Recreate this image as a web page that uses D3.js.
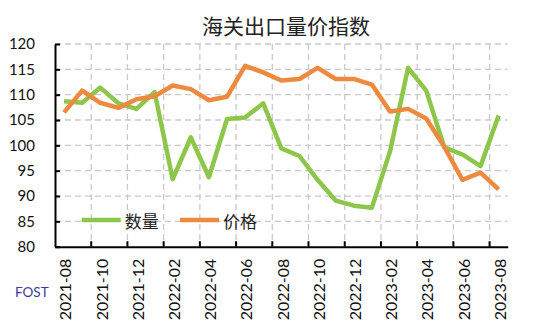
<!DOCTYPE html>
<html>
<head>
<meta charset="utf-8">
<script src="https://cdn.jsdelivr.net/npm/d3@7"></script>
<style>
  html, body { margin: 0; padding: 0; background: #fff; }
  svg { display: block; }
</style>
</head>
<body>
<svg id="chart" width="550" height="330"></svg>
<script>
// Monthly customs export index, 2021-08 .. 2023-08
const months = [
  "2021-08","2021-09","2021-10","2021-11","2021-12",
  "2022-01","2022-02","2022-03","2022-04","2022-05","2022-06","2022-07",
  "2022-08","2022-09","2022-10","2022-11","2022-12",
  "2023-01","2023-02","2023-03","2023-04","2023-05","2023-06","2023-07","2023-08"
];
const quantity = [108.7, 108.4, 111.4, 108.3, 107.2, 110.5, 93.3, 101.6, 93.7, 105.2, 105.5, 108.3,
                  99.4, 97.9, 93.2, 89.1, 88.1, 87.7, 98.8, 115.3, 110.8, 99.6, 98.2, 95.9, 105.9];
const price = [106.5, 110.8, 108.4, 107.4, 109.1, 109.7, 111.8, 111.1, 108.9, 109.6, 115.7, 114.4,
               112.8, 113.1, 115.3, 113.1, 113.1, 112.0, 106.7, 107.2, 105.3, 99.7, 93.2, 94.6, 91.3];
const yTicks = [80, 85, 90, 95, 100, 105, 110, 115, 120];
const seriesNames = ["数量", "价格"];
const seriesColors = ["#8dc64b", "#ee8a3f"];

const svg = d3.select("#chart");
const plotL = 55, plotR = 507.7, plotT = 44, plotB = 246.7;

const x = d3.scaleBand().domain(months).range([plotL, plotR]).padding(0);
const y = d3.scaleLinear().domain([80, 120]).range([plotB, plotT]);
const cx = m => x(m) + x.bandwidth() / 2;

// every second month carries a label; tick marks sit on the band boundaries
const labelled = months.filter((m, i) => i % 2 === 0);
const tickBounds = months.filter((m, i) => i > 0 && i % 2 === 0);

// title
svg.append("text")
  .attr("x", 286).attr("y", 25)
  .attr("text-anchor", "middle").attr("dominant-baseline", "central")
  .attr("font-family", "'Noto Sans CJK SC', sans-serif")
  .attr("font-size", 21).attr("fill", "#222")
  .text("海关出口量价指数");

// dashed grid
const grid = svg.append("g")
  .attr("stroke", "#c9c9c9").attr("stroke-width", 1.3)
  .attr("stroke-dasharray", "6,4").attr("fill", "none");
grid.selectAll("line.h").data(yTicks.filter(v => v > 80)).join("line")
  .attr("class", "h")
  .attr("x1", plotL).attr("x2", plotR)
  .attr("y1", d => y(d)).attr("y2", d => y(d));
grid.selectAll("line.v").data(tickBounds).join("line")
  .attr("class", "v")
  .attr("x1", d => x(d)).attr("x2", d => x(d))
  .attr("y1", plotT).attr("y2", plotB);

// y axis with inward ticks
const yAxis = svg.append("g")
  .attr("transform", `translate(${plotL},0)`)
  .call(d3.axisLeft(y).tickValues(yTicks).tickSizeInner(-5).tickSizeOuter(0).tickPadding(20));
yAxis.select(".domain").attr("stroke", "#000").attr("stroke-width", 2);
yAxis.selectAll(".tick line").attr("stroke", "#000").attr("stroke-width", 2);
yAxis.selectAll(".tick text")
  .attr("font-family", "Lato, sans-serif").attr("font-size", 15).attr("fill", "#111");

// x axis: labels at band centres, rotated
const xAxis = svg.append("g")
  .attr("transform", `translate(0,${plotB})`)
  .call(d3.axisBottom(x).tickValues(labelled).tickSize(0).tickPadding(0));
xAxis.select(".domain").attr("stroke", "#000").attr("stroke-width", 2);
xAxis.selectAll(".tick text")
  .attr("font-family", "Lato, sans-serif").attr("font-size", 16).attr("fill", "#111")
  .attr("transform", "rotate(-90)")
  .attr("text-anchor", "end")
  .attr("dy", "0.36em")
  .attr("x", -12).attr("y", 1.5);
svg.append("g").selectAll("line").data(tickBounds).join("line")
  .attr("x1", d => x(d)).attr("x2", d => x(d))
  .attr("y1", plotB).attr("y2", plotB - 5.5)
  .attr("stroke", "#000").attr("stroke-width", 2);

// series lines
const line = d3.line().x((d, i) => cx(months[i])).y(d => y(d));
[quantity, price].forEach((vals, k) => {
  svg.append("path")
    .datum(vals)
    .attr("d", line)
    .attr("fill", "none")
    .attr("stroke", seriesColors[k])
    .attr("stroke-width", 4.5)
    .attr("stroke-linejoin", "round");
});

// legend inside the plot
const legendX = [81.7, 180];
seriesNames.forEach((name, k) => {
  const g = svg.append("g").attr("transform", `translate(${legendX[k]},220)`);
  g.append("line").attr("x1", 0).attr("x2", 39).attr("y1", 0).attr("y2", 0)
    .attr("stroke", seriesColors[k]).attr("stroke-width", 4.5);
  g.append("text").attr("x", 43).attr("y", 0)
    .attr("dominant-baseline", "central")
    .attr("font-family", "'Noto Sans CJK SC', sans-serif")
    .attr("font-size", 17).attr("fill", "#222")
    .text(name);
});

// source mark
svg.append("text")
  .attr("x", 15).attr("y", 292)
  .attr("dominant-baseline", "central")
  .attr("font-family", "Lato, sans-serif").attr("font-size", 13.5)
  .attr("fill", "#3c3c96")
  .text("FOST");
</script>
</body>
</html>
